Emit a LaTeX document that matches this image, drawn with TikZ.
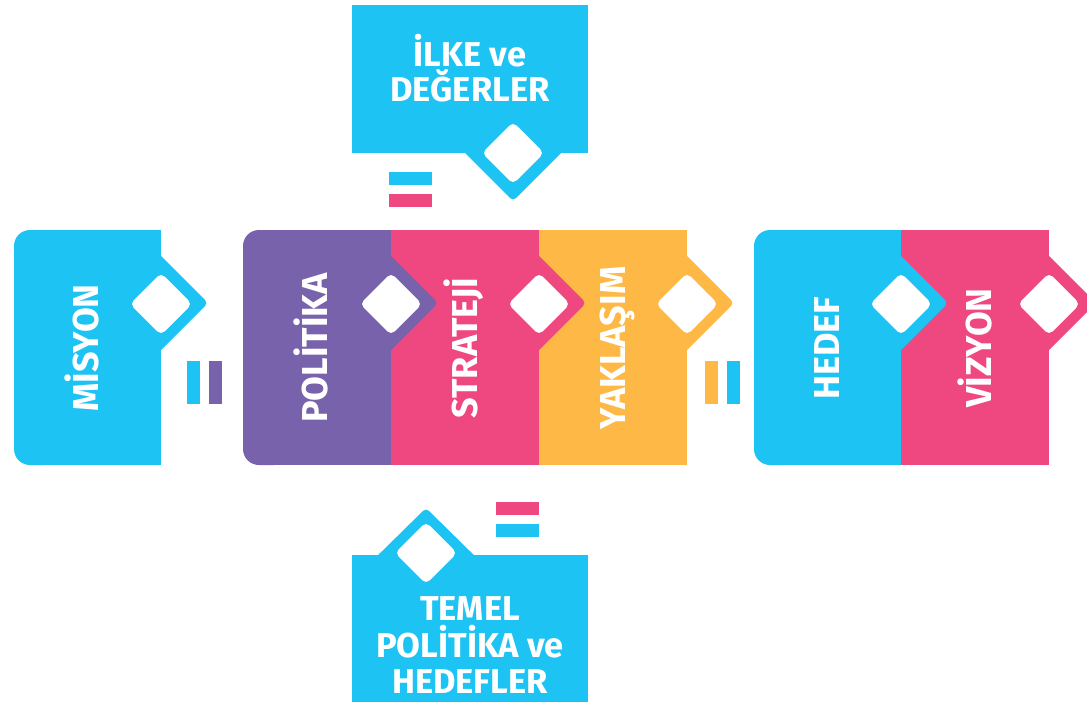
\documentclass[tikz,border=0pt]{standalone}
\usepackage{fontspec}
\setmainfont{Fira Sans}
\usepackage{tikz}

\definecolor{cyanbox}{RGB}{29,196,243}
\definecolor{purplebox}{RGB}{119,98,171}
\definecolor{pinkbox}{RGB}{239,71,128}
\definecolor{orangebox}{RGB}{253,184,69}

\tikzset{
    hole/.style={fill=white, rounded corners=5pt},
    tab/.style={rounded corners=4pt},
    sidetext/.style={text=white, anchor=base, rotate=90, inner sep=0pt,
        font=\fontsize{36}{40}\selectfont\bfseries},
    boxtext/.style={text=white, anchor=base, inner sep=0pt,
        font=\fontsize{34.5}{36}\selectfont\bfseries}
}

\begin{document}
\begin{tikzpicture}[x=1pt, y=-1pt]
        \useasboundingbox (0,0) rectangle (1087,706);

        \fill [cyanbox] (352,5) rectangle (588,153);
        \fill [cyanbox, tab] (455,143) -- (513,201) -- (571,143) -- cycle;
        \fill [hole] (513,122) -- (544,153) -- (513,184) -- (482,153) -- cycle;
        \node [boxtext] (ilke) at (470,67) {İLKE ve};
        \node [boxtext] (degerler) at (470,102) {DEĞERLER};
        \fill [cyanbox] (389,172) rectangle (432,185);
        \fill [pinkbox] (389,194) rectangle (432,207);

        \fill [cyanbox, rounded corners=16pt] (14,230) rectangle (60,465);
        \fill [cyanbox] (40,230) rectangle (161,465);
        \fill [cyanbox, tab] (151,246) -- (208,303) -- (151,360) -- cycle;
        \fill [hole] (161,273) -- (192,304) -- (161,335) -- (130,304) -- cycle;
        \node [sidetext] (misyon) at (98,348) {MİSYON};

        \fill [cyanbox] (187,361) rectangle (200,404);
        \fill [purplebox] (209,361) rectangle (222,404);

        \fill [orangebox] (539,230) rectangle (687,465);
        \fill [orangebox, tab] (677,246) -- (734,303) -- (677,360) -- cycle;
        \fill [hole] (687,273) -- (718,304) -- (687,335) -- (656,304) -- cycle;
        \node [sidetext] (yaklasim) at (625,348) {YAKLAŞIM};

        \fill [pinkbox] (391,230) rectangle (539,465);
        \fill [pinkbox, tab] (529,246) -- (586,303) -- (529,360) -- cycle;
        \fill [hole] (539,273) -- (570,304) -- (539,335) -- (508,304) -- cycle;
        \node [sidetext] (strateji) at (477,348) {STRATEJİ};

        \fill [purplebox, rounded corners=16pt] (243,230) rectangle (290,465);
        \fill [purplebox] (270,230) rectangle (391,465);
        \fill [purplebox, tab] (381,246) -- (438,303) -- (381,360) -- cycle;
        \fill [hole] (391,273) -- (422,304) -- (391,335) -- (360,304) -- cycle;
        \node [sidetext] (politika) at (327,348) {POLİTİKA};

        \fill [orangebox] (705,361) rectangle (718,404);
        \fill [cyanbox] (727,361) rectangle (740,404);

        \fill [pinkbox] (901,230) rectangle (1049,465);
        \fill [pinkbox, tab] (1039,246) -- (1096,303) -- (1039,360) -- cycle;
        \fill [hole] (1049,273) -- (1080,304) -- (1049,335) -- (1018,304) -- cycle;
        \node [sidetext] (vizyon) at (991,348) {VİZYON};

        \fill [cyanbox, rounded corners=16pt] (754,230) rectangle (800,465);
        \fill [cyanbox] (780,230) rectangle (901,465);
        \fill [cyanbox, tab] (891,246) -- (948,303) -- (891,360) -- cycle;
        \fill [hole] (901,273) -- (932,304) -- (901,335) -- (870,304) -- cycle;
        \node [sidetext] (hedef) at (839,348) {HEDEF};

        \fill [pinkbox] (496,502) rectangle (539,515);
        \fill [cyanbox] (496,524) rectangle (539,537);

        \fill [cyanbox] (352,555) rectangle (588,702);
        \fill [cyanbox, tab] (368,565) -- (426,508) -- (484,565) -- cycle;
        \fill [hole] (426,522) -- (457,553) -- (426,584) -- (395,553) -- cycle;
        \node [boxtext] (temel) at (470,620) {TEMEL};
        \node [boxtext] (politikave) at (470,657) {POLİTİKA ve};
        \node [boxtext] (hedefler) at (470,693) {HEDEFLER};
    \end{tikzpicture}
\end{document}
